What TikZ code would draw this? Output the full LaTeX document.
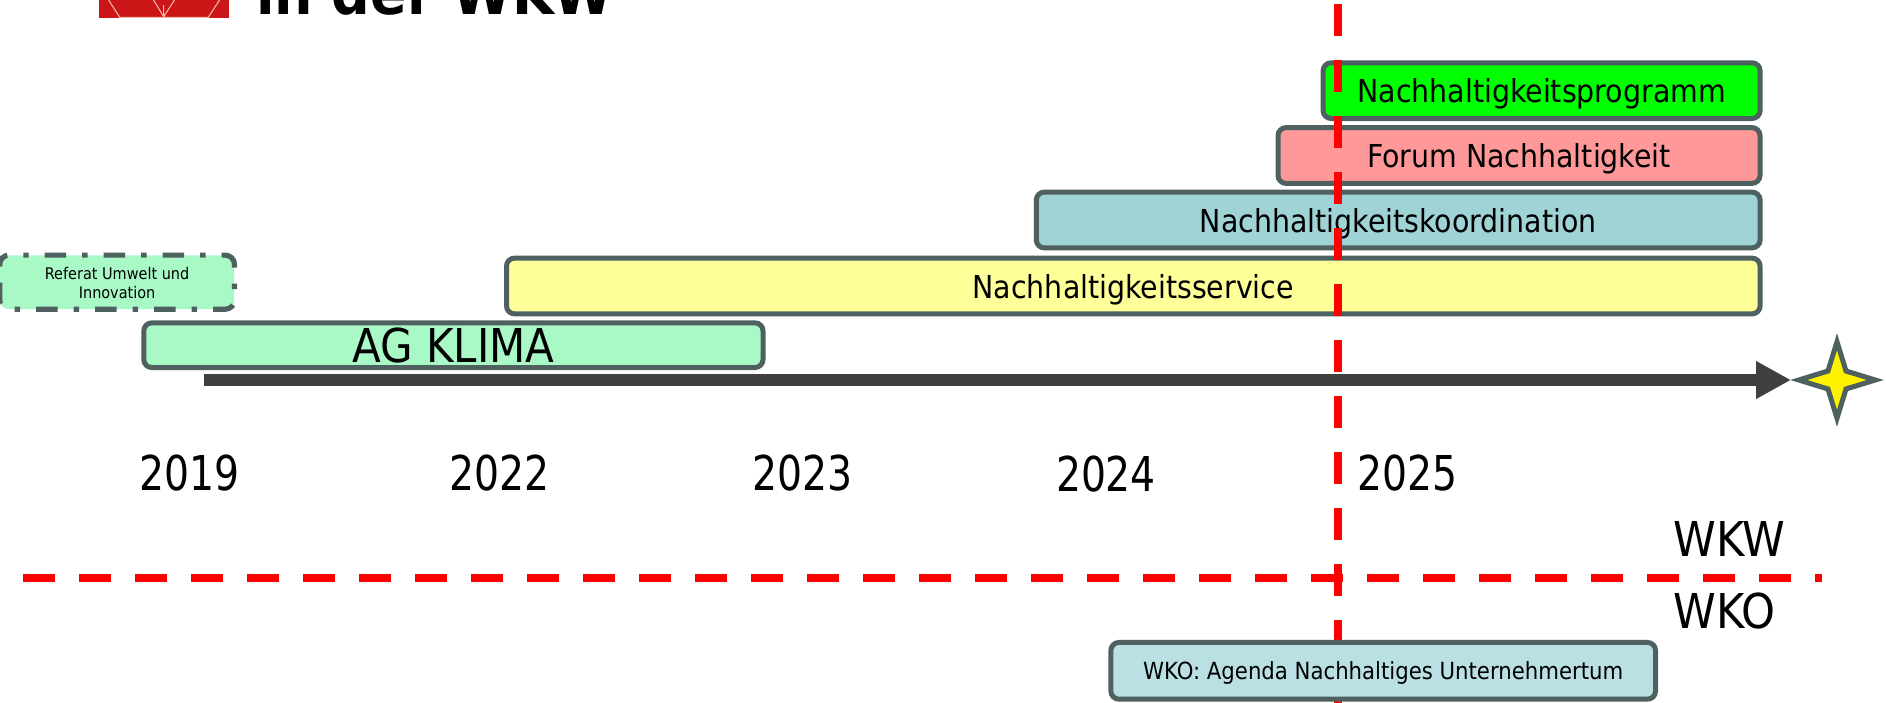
\documentclass[tikz,border=0pt]{standalone}
\usepackage{fontspec}
\setmainfont{DejaVu Sans Condensed}
\newfontfamily\digitfont[FakeStretch=0.91]{DejaVu Sans Condensed}
\usetikzlibrary{arrows.meta}
\definecolor{edge}{HTML}{4F6060}
\definecolor{mint}{HTML}{A9F9C6}
\definecolor{lemon}{HTML}{FFFF99}
\definecolor{teal1}{HTML}{9FD3D6}
\definecolor{teal2}{HTML}{BAE0E3}
\definecolor{rose}{HTML}{FF9999}
\definecolor{lime}{HTML}{00FF00}
\definecolor{shaft}{HTML}{404040}
\definecolor{logored}{HTML}{CC1517}
\definecolor{logoline}{HTML}{F0B8A8}
\tikzset{
  x=0.75pt,y=-0.75pt,
  bar/.style={draw=edge,line width=3.75pt,rounded corners=6pt,inner sep=0pt,outer sep=0pt,align=center},
  t30/.style={font=\fontsize{23.7pt}{27pt}\selectfont,text height=18.3pt,text depth=0pt},
  big/.style={anchor=base,inner sep=0pt,font=\fontsize{36pt}{43pt}\selectfont},
  year/.style={anchor=base,inner sep=0pt,font=\digitfont\fontsize{36pt}{43pt}\selectfont},
  cut/.style={draw=red,line width=6pt,dash pattern=on 24pt off 18pt},
}
\begin{document}
\begin{tikzpicture}
\useasboundingbox (0,0) rectangle (1886,703);
\clip (0,0) rectangle (1886,703);
% logo
\fill[logored] (98.5,0) rectangle (229.3,17.7);
\draw[logoline,line width=0.8pt] (108.6,0) -- (119.7,17.3) -- (208.3,17.3) -- (219.5,0);
\draw[logoline,line width=0.8pt] (153.6,0) -- (163.7,16.7) -- (174.5,0) (163.7,5) -- (163.7,16.7);
\node[anchor=base west,inner sep=0pt,font=\fontsize{45pt}{50pt}\selectfont\bfseries] (title) at (256,14.7) {in der WKW};
% bars
\node[bar,fill=lime,t30,minimum width=327.75pt,minimum height=41.8pt] (prog) at (1541.6,90.65) {Nachhaltigkeitsprogramm};
\node[bar,fill=rose,t30,minimum width=361.5pt,minimum height=41.8pt] (forum) at (1519,155.5) {Forum Nachhaltigkeit};
\node[bar,fill=teal1,t30,minimum width=542.9pt,minimum height=41.8pt] (koord) at (1398.2,220) {Nachhaltigkeitskoordination};
\node[bar,fill=lemon,t30,minimum width=940.2pt,minimum height=41.8pt] (serv) at (1133.3,286) {Nachhaltigkeitsservice};
\node[bar,fill=mint,font=\fontsize{35pt}{40pt}\selectfont,text height=26.2pt,text depth=0pt,minimum width=464.4pt,minimum height=33.5pt] (ag) at (453.4,345.2) {AG KLIMA};
% referat
\node[fill=mint,rounded corners=6.5pt,inner sep=0pt,minimum width=175.7pt,minimum height=40.2pt] (refbg) at (117.1,282.2) {};
\draw[edge,line width=3.9pt,rounded corners=7pt,dash pattern=on 16.1pt off 12pt on 4.1pt off 12pt]
  (refbg.north west) ++(0,10) -- (refbg.north west) -- (refbg.north east) -- (refbg.south east) -- (refbg.south west) -- cycle;
\node[anchor=center,inner sep=0pt,align=center,font=\fontsize{12.05pt}{14.8pt}\selectfont] (ref) at (117.1,283) {Referat Umwelt und\\Innovation};
% arrow
\coordinate (as) at (204,380);
\coordinate (ae) at (1791,380);
\draw[shaft,line width=8.7pt,-{Triangle[length=26.25pt,width=26.6pt]}] (as) -- (ae);
% star
\coordinate (sc) at (1837,380);
\draw[edge,line width=3.75pt,fill=yellow,miter limit=10,line join=miter]
  (sc) ++(0,-38.3) -- ++(9,29.3) -- ++(29.3,9) -- ++(-29.3,9) -- ++(-9,29.3) -- ++(-9,-29.3) -- ++(-29.3,-9) -- ++(29.3,-9) -- cycle;
% years
\node[year] (y19) at (189.85,490.5) {2019};
\node[year] (y22) at (499.85,490.5) {2022};
\node[year] (y23) at (802.5,490.5) {2023};
\node[year] (y24) at (1106,491.5) {2024};
\node[year] (y25) at (1407.5,490.5) {2025};
\node[big] (wkw) at (1729.5,556.7) {WKW};
\node[big] (wko) at (1724.7,628.3) {WKO};
% red lines
\coordinate (vt) at (1338,4.3);
\coordinate (vb) at (1338,703);
\coordinate (hl) at (22.9,578);
\coordinate (hr) at (1822,578);
\draw[cut] (hl) -- (hr);
\draw[cut] (vt) -- (vb);
% wko bar
\node[bar,fill=teal2,font=\fontsize{17.7pt}{20pt}\selectfont,text height=12.8pt,text depth=0pt,minimum width=408.5pt,minimum height=42.5pt] (wkoa) at (1383.2,670.8) {WKO: Agenda Nachhaltiges Unternehmertum};
\end{tikzpicture}
\end{document}
